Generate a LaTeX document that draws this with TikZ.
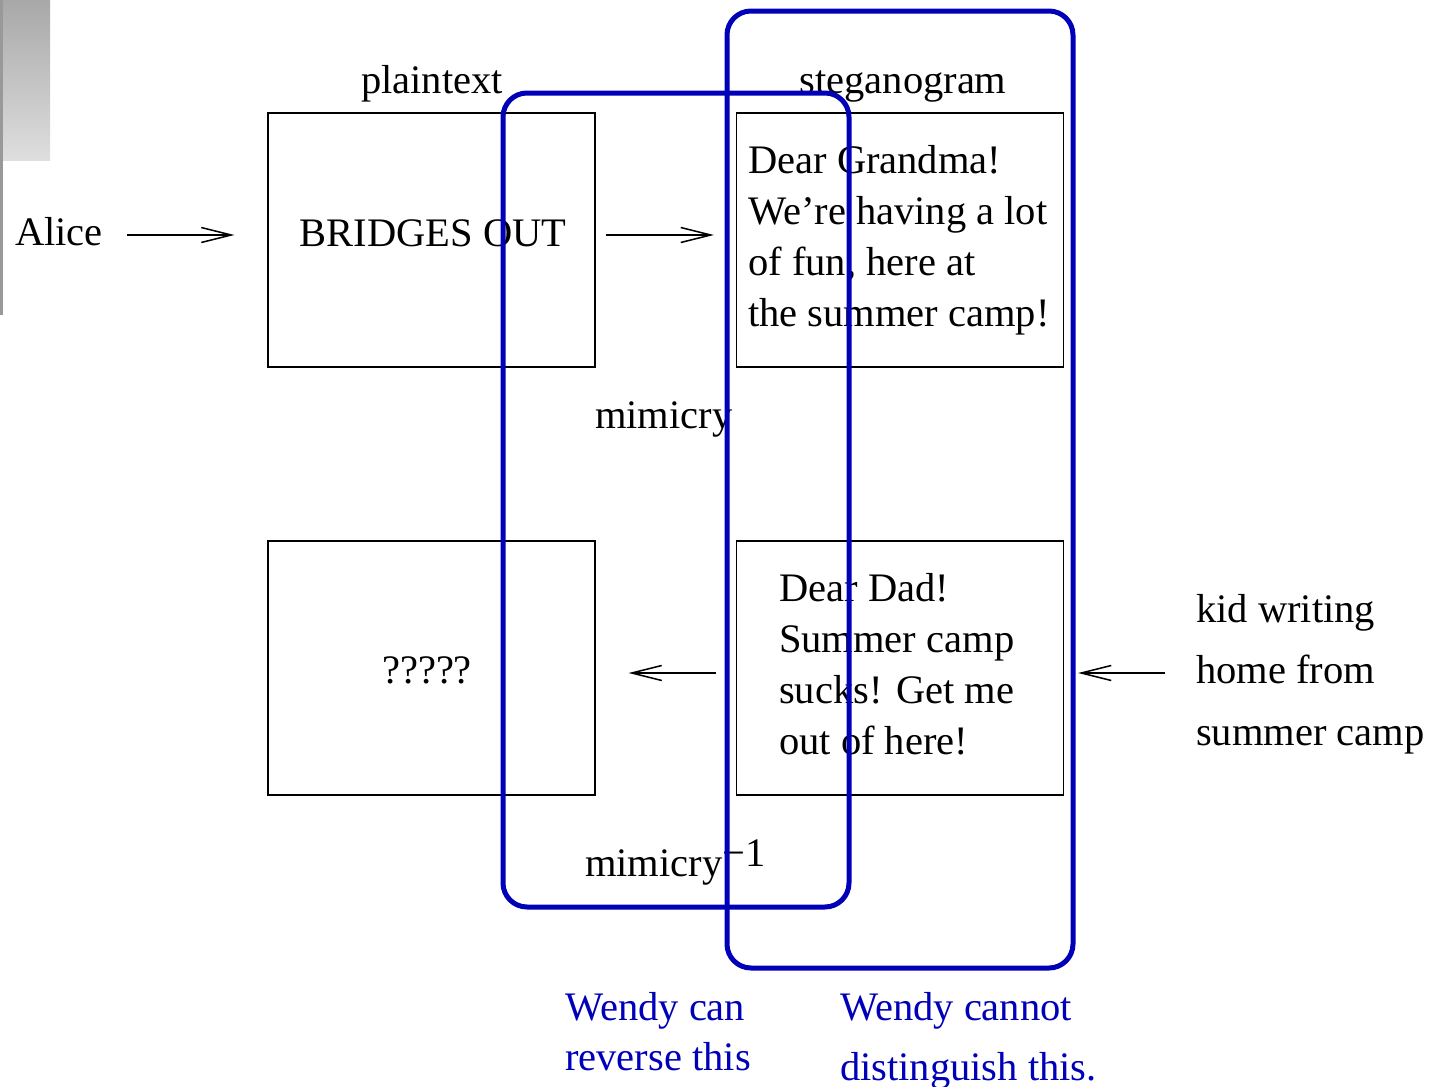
\documentclass[tikz,border=0pt]{standalone}
\usepackage{fontspec}
\setmainfont{Liberation Serif}
\usetikzlibrary{arrows.meta}
\definecolor{wblue}{RGB}{0,0,185}
\definecolor{gtop}{RGB}{168,168,168}
\definecolor{gbot}{RGB}{222,222,222}
\begin{document}
\begin{tikzpicture}[x=1pt,y=-1pt,
  every node/.style={font=\fontsize{40.5}{51}\selectfont, inner sep=0pt},
  panel/.style={draw, line width=1.3pt, minimum width=327pt, minimum height=254pt},
  arr/.style={line width=1.5pt, -{Straight Barb[length=30pt,width=15pt,line width=1.5pt]}},
  ring/.style={draw=wblue, line width=5pt, rounded corners=24pt},
  note/.style={text=wblue, anchor=base west}]
\useasboundingbox (0,0) rectangle (1430,1087);

% slide decoration in the corner
\shade[top color=gtop, bottom color=gbot] (3,0) rectangle (50,160);
\fill[gray!80] (0,0) rectangle (3,315);

% panels
\node[panel] (pt)  at (431.5,240) {};
\node[panel] (sg)  at (900,240) {};
\node[panel] (unk) at (431.5,668) {};
\node[panel] (kid) at (900,668) {};

% panel contents (multi-line blocks are anchored at their last baseline)
\node[anchor=base] (ptxt) at (433,246) {BRIDGES OUT};
\node[anchor=base] (qtxt) at (427,683) {?????};
\node[anchor=base west, align=left] (sgtxt) at (748,326)
  {Dear Grandma!\\We’re having a lot\\of fun, here at\\the summer camp!};
\node[anchor=base west, align=left] (kidtxt) at (779,754)
  {Dear Dad!\\Summer camp\\sucks! Get me\\out of here!};

% labels
\node[anchor=base] (lpt) at (432,93) {plaintext};
\node[anchor=base] (lsg) at (903,93) {steganogram};
\node[anchor=base west] (alice) at (15,245) {Alice};
\node[anchor=base west] (mim) at (595,428) {mimicry};
\node[anchor=base west] (mimi) at (585,876) {mimicry\raisebox{10pt}{−1}};
\node[anchor=base west, align=left,
      font=\fontsize{40.5}{61.5}\selectfont] (kidlbl) at (1196,745)
  {kid writing\\home from\\summer camp};

% connectors
\coordinate (a1) at (127,235);
\coordinate (a2) at (1165,673);
\draw[arr] (a1) -- ([xshift=-33pt]pt.west |- a1);
\draw[arr] ([xshift=10pt]pt.east |- a1) -- ([xshift=-22pt]sg.west |- a1);
\draw[arr] ([xshift=-20pt]kid.west |- a2) -- ([xshift=33pt]unk.east |- a2);
\draw[arr] (a2) -- ([xshift=14pt]kid.east |- a2);

% the two groupings
\draw[ring] (503,93) rectangle (849,907);
\draw[ring] (727,11) rectangle (1073,968);
\node[note] (wcan) at (565,1020) {Wendy can};
\node[note] (wrev) at (565,1070) {reverse this};
\node[note] (wcant) at (840,1020) {Wendy cannot};
\node[note] (wdist) at (840,1080) {distinguish this.};
\end{tikzpicture}
\end{document}
